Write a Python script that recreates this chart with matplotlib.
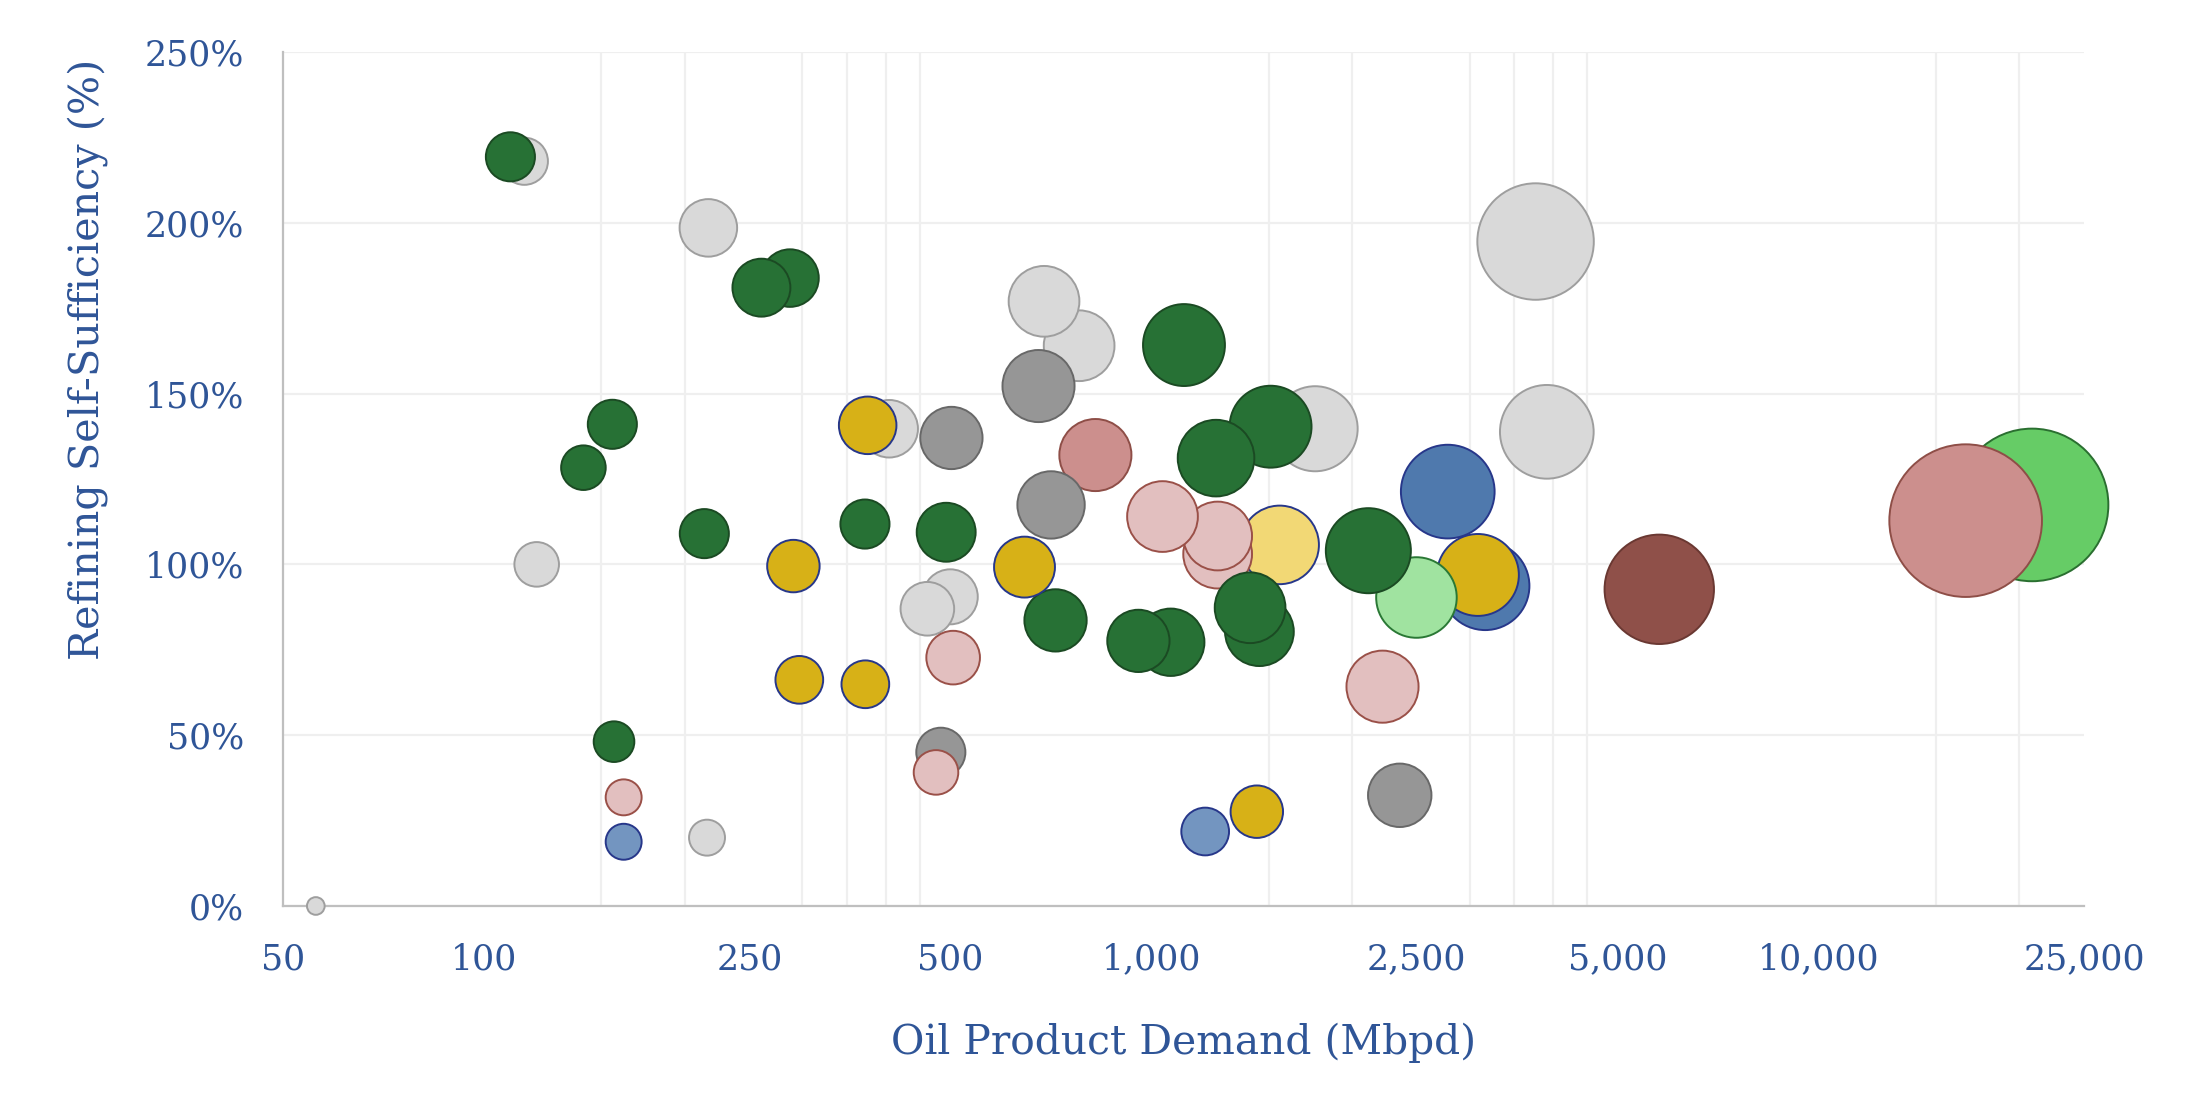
import matplotlib
matplotlib.use("Agg")
import matplotlib.pyplot as plt
from matplotlib.ticker import FixedLocator, FixedFormatter, NullFormatter

# ---------------- data (draw order = list order) ----------------
groups = ['lgray'] * 13 + ['bgreen'] + ['rose'] * 2 + ['brown'] + ['dgray'] * 5 + ['lyellow'] \
    + ['lpink'] * 7 + ['blue'] + ['lblue'] * 2 + ['dgreen'] * 17 + ['gold'] * 7 \
    + ['blue'] + ['lgreen'] + ['dgreen']

demand = [115, 217, 120, 216, 56, 500, 462, 405, 780, 691, 1761, 3768, 3917,   # light grey
          20900,                                                              # bright green
          825, 16620,                                                         # rose
          5774,                                                               # brown
          484, 502, 678, 708, 2358,                                           # dark grey
          1558,                                                               # light yellow
          162, 476, 505, 1258, 1258, 1040, 2222,                              # light pink
          3167,                                                               # blue
          162, 1205,                                                          # light blue
          109.6, 287.6, 260.6, 155.8, 141, 214, 156.7, 372.5, 493, 719,
          1070, 957, 1453, 1407, 1120, 1510, 1251,                            # dark green
          291, 297, 373, 646, 1440, 376, 3088,                                # gold
          2783,                                                               # blue
          2498,                                                               # light green
          2116]                                                               # dark green

self_sufficiency = [218, 198.5, 100, 20, 0, 90.5, 87, 139.7, 164, 177, 139.7, 194.5, 138.8,
                    117.4,
                    132, 112.8,
                    92.7,
                    45, 137, 152.2, 117.4, 32.4,
                    105.7,
                    31.8, 39.1, 72.7, 103, 108.3, 114, 64.2,
                    93.7,
                    18.8, 21.8,
                    219.3, 183.8, 181, 141, 128.3, 109, 48.1, 111.8, 109.4, 83.6,
                    77.2, 77.6, 80.3, 87.3, 164.2, 140.3, 131.1,
                    99.5, 66.2, 64.9, 99.2, 27.6, 140.7, 96.9,
                    121.3,
                    90.3,
                    104]

bubble_value = [576, 858, 515, 335, 81, 784, 745, 858, 1296, 1296, 1875, 3516, 2275,
                6037,
                1347, 6037,
                3102,
                625, 1005, 1347, 1176, 1043,
                1600,
                335, 515, 745, 1225, 1225, 1296, 1347,
                2025,
                335, 590,
                625, 858, 870, 625, 515, 625, 428, 625, 900, 1005,
                1176, 1005, 1225, 1296, 1739, 1739, 1521,
                713, 590, 590, 961, 713, 858, 1739,
                2275,
                1681,
                1875]

x_ticks = [50, 100, 250, 500, 1000, 2500, 5000, 10000, 25000]
x_tick_labels = ['50', '100', '250', '500', '1,000', '2,500', '5,000', '10,000', '25,000']
x_grid = [100, 150, 200, 250, 300, 350, 400, 450, 500,
          1000, 1500, 2000, 2500, 3000, 3500, 4000, 4500, 5000,
          10000, 15000, 20000, 25000]
y_ticks = [0, 50, 100, 150, 200, 250]
y_tick_labels = ['0%', '50%', '100%', '150%', '200%', '250%']

palette = {
    'lgray':   ('#D9D9D9', '#9E9E9E'),
    'dgray':   ('#969696', '#686868'),
    'dgreen':  ('#277135', '#1B4A23'),
    'gold':    ('#D7B117', '#27378A'),
    'lpink':   ('#E2BFBF', '#9A5048'),
    'rose':    ('#CC8F8D', '#8E4E47'),
    'brown':   ('#8F5049', '#6A3832'),
    'blue':    ('#4F79AD', '#27378A'),
    'lblue':   ('#7395C0', '#27378A'),
    'lyellow': ('#F2D875', '#27378A'),
    'lgreen':  ('#A0E3A0', '#2A7835'),
    'bgreen':  ('#66CC66', '#2A6F30'),
}

text_color = '#2F5597'
font = 'DejaVu Serif'

# ---------------- figure ----------------
fig = plt.figure(figsize=(22.09, 11.10), dpi=100)
ax = fig.add_axes([0.1281, 0.1838, 0.8153, 0.7694])

ax.set_xscale('log')
ax.set_xlim(50, 25000)
ax.set_ylim(0, 250)

face = [palette[g][0] for g in groups]
edge = [palette[g][1] for g in groups]
sizes = [2.0 * v for v in bubble_value]
ax.scatter(demand, self_sufficiency, s=sizes, c=face, edgecolors=edge,
           linewidths=1.4, zorder=5, clip_on=False)

# ticks & grid
ax.xaxis.set_major_locator(FixedLocator(x_ticks))
ax.xaxis.set_major_formatter(FixedFormatter(x_tick_labels))
ax.xaxis.set_minor_locator(FixedLocator(x_grid))
ax.xaxis.set_minor_formatter(NullFormatter())
ax.yaxis.set_major_locator(FixedLocator(y_ticks))
ax.yaxis.set_major_formatter(FixedFormatter(y_tick_labels))

ax.grid(False)
ax.grid(True, which='minor', axis='x', color='#EFEFEF', linewidth=1.6, zorder=0)
ax.grid(True, which='major', axis='y', color='#EFEFEF', linewidth=1.6, zorder=0)
ax.set_axisbelow(True)

ax.tick_params(axis='both', which='both', length=0)
ax.tick_params(axis='x', which='major', pad=26, labelsize=25, labelcolor=text_color)
ax.tick_params(axis='y', which='major', pad=28, labelsize=25, labelcolor=text_color)
for lbl in ax.get_xticklabels() + ax.get_yticklabels():
    lbl.set_fontfamily(font)

for side in ['top', 'right']:
    ax.spines[side].set_visible(False)
for side in ['left', 'bottom']:
    ax.spines[side].set_color('#BFBFBF')
    ax.spines[side].set_linewidth(1.6)
    ax.spines[side].set_zorder(2)

ax.set_xlabel('Oil Product Demand (Mbpd)', fontsize=29.3, color=text_color, family=font)
ax.set_ylabel('Refining Self-Sufficiency (%)', fontsize=29.8, color=text_color, family=font)
ax.xaxis.set_label_coords(0.5, -0.137)
ax.yaxis.set_label_coords(-0.097, 0.64)

fig.savefig('out.png', dpi=100, facecolor='white')
